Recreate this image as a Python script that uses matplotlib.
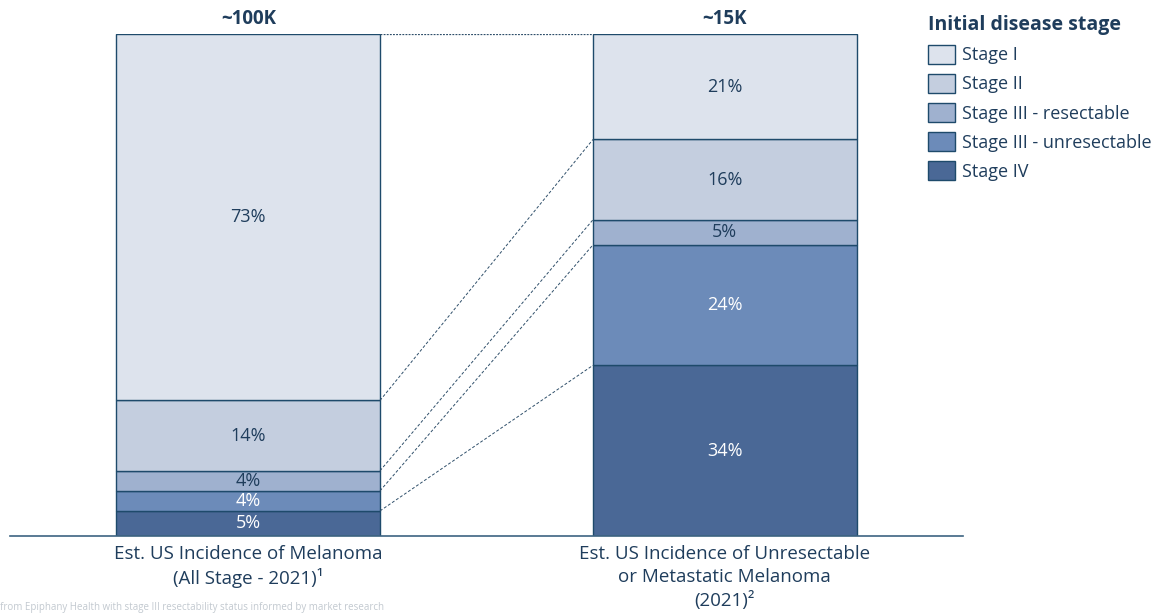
import matplotlib.pyplot as plt
from matplotlib.patches import Patch
import numpy as np

plt.rcParams['font.family'] = ['Open Sans', 'DejaVu Sans']

# stacked shares, bottom (Stage IV) to top (Stage I)
stages = ["Stage IV", "Stage III - unresectable", "Stage III - resectable", "Stage II", "Stage I"]
all_stage = [5, 4, 4, 14, 73]
unresectable = [34, 24, 5, 16, 21]
totals = ["~100K", "~15K"]
categories = ["Est. US Incidence of Melanoma\n(All Stage - 2021)\u00b9",
              "Est. US Incidence of Unresectable\nor Metastatic Melanoma\n(2021)\u00b2"]

colors = ["#4a6896", "#6c8bb9", "#9fb1cf", "#c4cedf", "#dde3ed"]
text_cols = ["white", "white", "#1f3d5c", "#1f3d5c", "#1f3d5c"]
edge = "#1e4a6b"
navy = "#1f3d5c"

fig = plt.figure(figsize=(11.59, 6.15), dpi=100)
ax = fig.add_axes([10 / 1159, 79 / 615, 953 / 1159, 502 / 615])
ax.set_xlim(-0.5, 1.5)
ax.set_ylim(0, 100)

width = 0.553
x = np.array([0, 1])
for i, series in enumerate([all_stage, unresectable]):
    bottom = 0
    for j, v in enumerate(series):
        ax.bar(x[i], v, width, bottom=bottom, color=colors[j], edgecolor=edge, linewidth=1.0)
        ax.text(x[i], bottom + v / 2, f"{v}%", ha='center', va='center',
                fontsize=13, color=text_cols[j])
        bottom += v
    ax.text(x[i], 100 + 1.0, totals[i], ha='center', va='bottom',
            fontsize=13.5, fontweight='bold', color=navy)
    ax.text(x[i], -1.8, categories[i], ha='center', va='top',
            fontsize=13.5, color=navy, linespacing=1.34)

# dashed connectors between matching segment boundaries
left_cum = np.cumsum(all_stage)
right_cum = np.cumsum(unresectable)
x0 = x[0] + width / 2
x1 = x[1] - width / 2
for a, b in zip(left_cum[:-1], right_cum[:-1]):
    ax.plot([x0, x1], [a, b], color="#2f4f6a", lw=0.7, ls=(0, (3, 2)))
ax.plot([x0, x1], [100, 100], color="#2f4f6a", lw=0.9, ls=(0, (1.5, 1)))

for s in ['top', 'right', 'left']:
    ax.spines[s].set_visible(False)
ax.spines['bottom'].set_color("#3d6482")
ax.spines['bottom'].set_linewidth(1.2)
ax.set_xticks([])
ax.set_yticks([])

handles = [Patch(facecolor=colors[k], edgecolor=edge, linewidth=1.0) for k in range(4, -1, -1)]
leg = fig.legend(handles, stages[::-1], title="Initial disease stage",
                 loc='upper left', bbox_to_anchor=(928 / 1159, 1 - 15 / 615),
                 frameon=False, fontsize=13, alignment='left',
                 title_fontproperties={'weight': 'bold', 'size': 14},
                 handlelength=1.5, handleheight=1.25, handletextpad=0.4,
                 labelspacing=0.53, borderaxespad=0, borderpad=0)
for t in leg.get_texts():
    t.set_color(navy)
leg.get_title().set_color(navy)

fig.text(0.0, 0.003, "from Epiphany Health with stage III resectability status informed by market research",
         fontsize=7, color="#9aa5b0", ha='left', va='bottom', alpha=0.6)

fig.savefig("out.png", dpi=100)
